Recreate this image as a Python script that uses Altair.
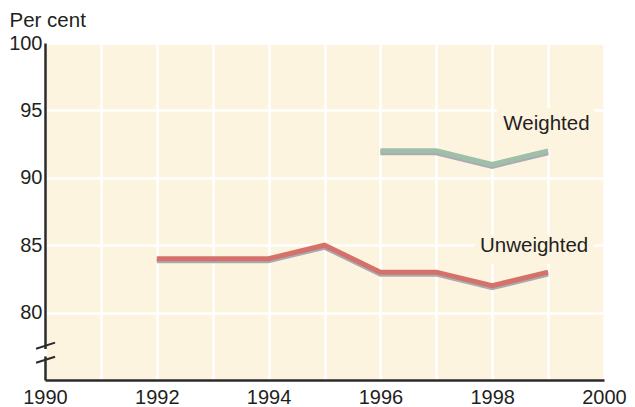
import altair as alt
import pandas as pd

# ---- data ----
years_unweighted = [1992, 1993, 1994, 1995, 1996, 1997, 1998, 1999]
unweighted = [84, 84, 84, 85, 83, 83, 82, 83]
years_weighted = [1996, 1997, 1998, 1999]
weighted = [92, 92, 91, 92]

x_ticks = list(range(1990, 2001))
y_ticks = [80, 85, 90, 95, 100]

label_text = ["Weighted", "Unweighted"]
label_x = [1998.97, 1998.75]
label_y = [94.0, 84.95]
box_x = [1998.08, 1997.69]
box_x2 = [1999.82, 1999.82]
box_y = [92.05, 83.65]
box_y2 = [95.2, 85.75]

break_x = [1989.84, 1989.84]
break_x2 = [1990.18, 1990.18]
break_y = [77.32, 76.28]
break_y2 = [77.77, 76.73]
gap_y = [76.75]
gap_y2 = [77.3]

FONT = "Liberation Sans"
TXT = "#231f20"
CREAM = "#fdf4e0"
RED = "#d4716b"
GREEN = "#9ebfaa"
SHADOW = "#a9abb0"

df_u = pd.DataFrame({"year": years_unweighted, "value": unweighted})
df_w = pd.DataFrame({"year": years_weighted, "value": weighted})
df_lab = pd.DataFrame({"text": label_text, "x": label_x, "y": label_y,
                       "bx": box_x, "bx2": box_x2, "by": box_y, "by2": box_y2})
df_brk = pd.DataFrame({"x": break_x, "x2": break_x2, "y": break_y, "y2": break_y2})
df_gap = pd.DataFrame({"a": gap_y, "b": gap_y2})

xscale = alt.Scale(domain=[1990, 2000], nice=False, zero=False)
yscale = alt.Scale(domain=[75, 100], nice=False, zero=False)

xaxis = alt.Axis(values=x_ticks, format="d",
                 labelExpr="datum.value % 2 == 0 ? datum.label : ''",
                 ticks=False, domainColor="#2b2b2b", domainWidth=2.5,
                 grid=True, gridColor="white", gridWidth=2.5,
                 labelFont=FONT, labelFontSize=20, labelColor=TXT,
                 labelPadding=7, labelFlush=False, labelOverlap=False,
                 title=None, zindex=0)
yaxis = alt.Axis(values=y_ticks, ticks=False, domainColor="#2b2b2b", domainWidth=2.5,
                 grid=True, gridColor="white", gridWidth=2.5,
                 labelFont=FONT, labelFontSize=20, labelColor=TXT,
                 labelPadding=3, labelFlush=False, labelOverlap=False,
                 title="Per cent", titleAngle=0, titleAlign="left",
                 titleBaseline="alphabetic", titleX=-36, titleY=-17,
                 titleFont=FONT, titleFontSize=20.5, titleFontWeight="normal",
                 titleColor=TXT, zindex=0)

X = lambda f: alt.X(f, type="quantitative", scale=xscale, axis=xaxis)
Y = lambda f: alt.Y(f, type="quantitative", scale=yscale, axis=yaxis)

def line(df, color, offset=0):
    return alt.Chart(df).mark_line(color=color, strokeWidth=5, yOffset=offset,
                                   strokeJoin="miter", strokeCap="butt").encode(
        x=X("year"), y=Y("value"))

boxes = alt.Chart(df_lab).mark_rect(color=CREAM).encode(
    x=X("bx"), x2="bx2", y=Y("by"), y2="by2")
texts = alt.Chart(df_lab).mark_text(font=FONT, fontSize=20.5, color=TXT,
                                    baseline="middle", align="center").encode(
    x=X("x"), y=Y("y"), text="text")

gap = alt.Chart(df_gap).mark_rule(color="white", strokeWidth=4).encode(
    x=alt.value(0), y=Y("a"), y2="b")
breaks = alt.Chart(df_brk).mark_rule(color="#2b2b2b", strokeWidth=2).encode(
    x=X("x"), x2="x2", y=Y("y"), y2="y2")

chart = alt.layer(
    boxes,
    line(df_u, SHADOW, 2), line(df_u, RED),
    line(df_w, SHADOW, 2), line(df_w, GREEN),
    texts, gap, breaks
).properties(
    width=559, height=337,
    padding={"left": 37, "top": 35, "right": 23, "bottom": 27},
    autosize="none", background="white"
).configure_view(stroke=None, fill=CREAM)

chart.save("out.html", embed_options={"renderer": "svg", "actions": False})
